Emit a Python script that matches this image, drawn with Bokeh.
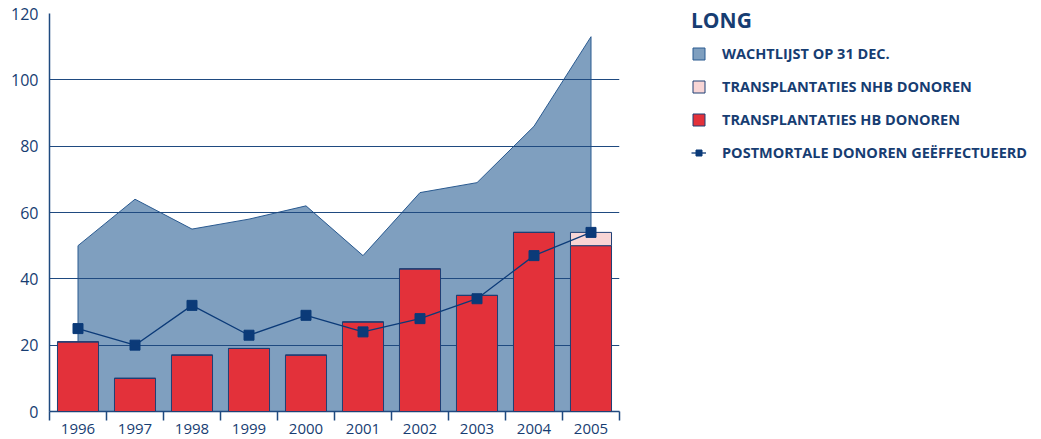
from bokeh.plotting import figure
from bokeh.models import FixedTicker, Legend, LegendItem, ColumnDataSource
from bokeh.embed import file_html
from bokeh.resources import INLINE

years = ["1996", "1997", "1998", "1999", "2000", "2001", "2002", "2003", "2004", "2005"]
wachtlijst = [50, 64, 55, 58, 62, 47, 66, 69, 86, 113]
hb_donoren = [21, 10, 17, 19, 17, 27, 43, 35, 54, 50]
nhb_donoren = [0, 0, 0, 0, 0, 0, 0, 0, 0, 4]
postmortaal = [25, 20, 32, 23, 29, 24, 28, 34, 47, 54]
y_ticks = [0, 20, 40, 60, 80, 100, 120]

TEXT = "#173d72"
DARK = "#1f4a80"
AREA = "#7f9fbf"
RED = "#e3313a"
PINK = "#f8d5d5"
LINE = "#0b3a78"

n = len(years)
centers = [i + 0.5 for i in range(n)]
bounds = [float(i) for i in range(n + 1)]
hb_top = [h + nh for h, nh in zip(hb_donoren, nhb_donoren)]

p = figure(frame_width=570, frame_height=398, x_range=(0, n), y_range=(0, 120),
           output_backend="svg", toolbar_location=None,
           min_border_left=49, min_border_right=0, min_border_top=13, min_border_bottom=26)
p.outline_line_color = None
p.background_fill_color = "white"

# waiting list area
area_x = [centers[0]] + centers + [centers[-1]]
area_y = [0] + wachtlijst + [0]
r_area = p.patch(area_x, area_y, fill_color=AREA, line_color="#2a5a90", line_width=1)
r_area.level = "underlay"

src = ColumnDataSource(dict(x=centers, hb=hb_donoren, top=hb_top, zero=[0] * n, pm=postmortaal))
r_hb = p.vbar(x="x", bottom="zero", top="hb", width=0.72, source=src,
              fill_color=RED, line_color="#1f3f74", line_width=1)
r_nhb = p.vbar(x="x", bottom="hb", top="top", width=0.72, source=src,
               fill_color=PINK, line_color="#1f3f74", line_width=1)
r_line = p.line(x="x", y="pm", source=src, line_color=LINE, line_width=1.3)
r_mark = p.scatter(x="x", y="pm", source=src, marker="square", size=10,
                   fill_color=LINE, line_color=LINE)
for r in (r_hb, r_nhb, r_line, r_mark):
    r.level = "annotation"

# grid
p.xgrid.visible = False
p.ygrid.ticker = FixedTicker(ticks=y_ticks)
p.ygrid.grid_line_color = DARK
p.ygrid.grid_line_width = 1
p.ygrid.level = "glyph"

# axes
p.yaxis.ticker = FixedTicker(ticks=y_ticks)
p.yaxis.axis_line_color = DARK
p.yaxis.axis_line_width = 1.5
p.yaxis.major_tick_line_color = None
p.yaxis.major_tick_out = 0
p.yaxis.minor_tick_line_color = None
p.yaxis.major_label_text_font = "Open Sans"
p.yaxis.major_label_text_font_size = "16px"
p.yaxis.major_label_text_color = TEXT
p.yaxis.major_label_standoff = 11

p.xaxis.ticker = FixedTicker(ticks=centers, minor_ticks=bounds)
p.xaxis.major_label_overrides = {c: y for c, y in zip(centers, years)}
p.xaxis.axis_line_color = DARK
p.xaxis.axis_line_width = 1.5
p.xaxis.major_tick_line_color = None
p.xaxis.minor_tick_line_color = DARK
p.xaxis.minor_tick_line_width = 1.5
p.xaxis.minor_tick_in = 0
p.xaxis.minor_tick_out = 9
p.xaxis.major_label_text_font = "Open Sans"
p.xaxis.major_label_text_font_size = "15px"
p.xaxis.major_label_text_color = TEXT
p.xaxis.major_label_standoff = 3

legend = Legend(items=[
    LegendItem(label="WACHTLIJST OP 31 DEC.", renderers=[r_area]),
    LegendItem(label="TRANSPLANTATIES NHB DONOREN", renderers=[r_nhb]),
    LegendItem(label="TRANSPLANTATIES HB DONOREN", renderers=[r_hb]),
    LegendItem(label="POSTMORTALE DONOREN GEËFFECTUEERD", renderers=[r_line, r_mark]),
], location=(72, 249))
legend.title = "LONG"
legend.title_text_font = "Open Sans"
legend.title_text_font_style = "bold"
legend.title_text_font_size = "21px"
legend.title_text_color = TEXT
legend.title_standoff = 10
legend.label_text_font = "Open Sans"
legend.label_text_font_style = "bold"
legend.label_text_font_size = "14.5px"
legend.label_text_color = TEXT
legend.glyph_width = 15
legend.glyph_height = 15
legend.label_height = 15
legend.label_standoff = 16
legend.spacing = 14
legend.padding = 0
legend.margin = 0
legend.border_line_color = None
legend.background_fill_alpha = 0
p.add_layout(legend, "right")

open("out.html", "w").write(file_html(p, INLINE))
